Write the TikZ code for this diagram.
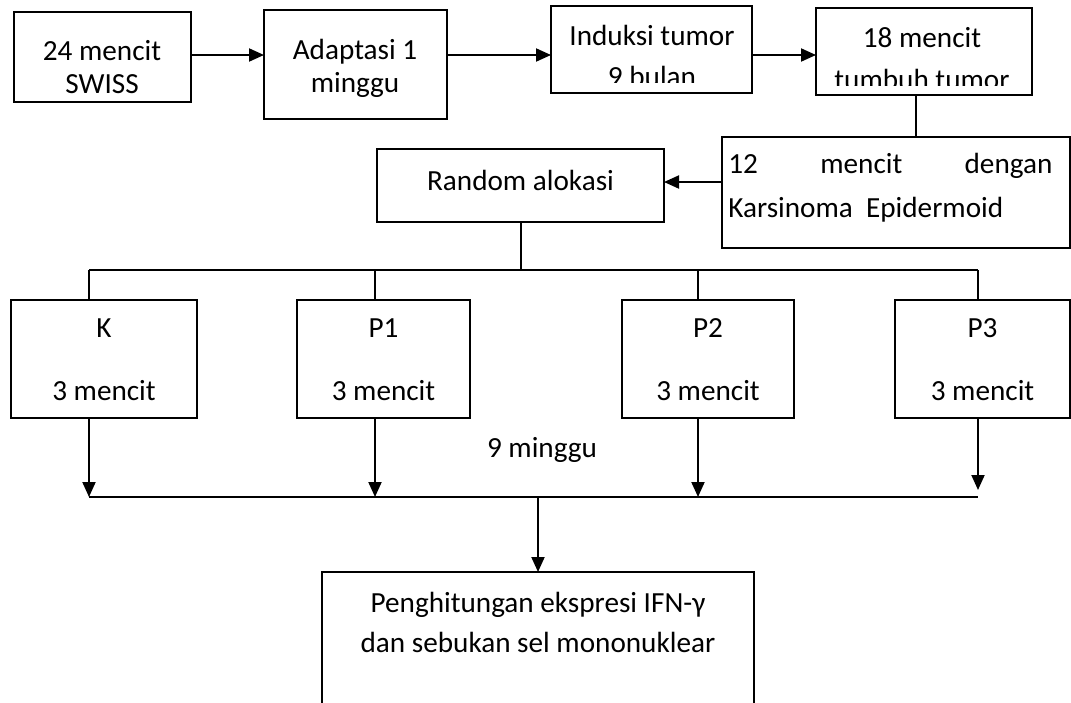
\documentclass[tikz,border=0pt]{standalone}
\usepackage{fontspec}
\setmainfont{Carlito}
\usetikzlibrary{arrows.meta}
\begin{document}
\begin{tikzpicture}[x=0.5pt,y=-0.5pt,
  box/.style={draw,line width=1pt,inner sep=0pt,outer sep=0pt},
  lbl/.style={anchor=base,inner sep=0pt,font=\fontsize{14.6pt}{17.5pt}\selectfont},
  arr/.style={line width=1pt,-{Triangle[length=7.5pt,width=6.5pt]}},
  ln/.style={line width=1pt}]
\useasboundingbox (0,0) rectangle (1071,702);
\clip (0,0) rectangle (1071,702);
% top row
\node[box,minimum width=88.5pt,minimum height=45pt] (b1) at (102.5,57) {};
\node[box,minimum width=91.5pt,minimum height=54.5pt] (b2) at (355.5,64.5) {};
\node[box,minimum width=100.5pt,minimum height=43.5pt] (b3) at (651.5,49.5) {};
\node[box,minimum width=108pt,minimum height=43.5pt] (b4) at (924,51.5) {};
\node[lbl] (t1a) at (102,60) {24 mencit};
\node[lbl] (t1b) at (102,93) {SWISS};
\node[lbl] (t2a) at (355,59) {Adaptasi 1};
\node[lbl] (t2b) at (355,92) {minggu};
\node[lbl] (t3a) at (652,45) {Induksi tumor};
\begin{scope}
\clip (551,0) rectangle (752,82);
\node[lbl] (t3b) at (652,86) {9 bulan};
\end{scope}
\node[lbl] (t4a) at (922,47) {18 mencit};
\begin{scope}
\clip (816,0) rectangle (1032,85);
\node[lbl] (t4b) at (922,89) {tumbuh tumor};
\end{scope}
\coordinate (row) at (0,55);
\draw[arr] (b1.east |- row) -- (b2.west |- row);
\draw[arr] (b2.east |- row) -- (b3.west |- row);
\draw[arr] (b3.east |- row) -- (b4.west |- row);
% second row
\node[box,minimum width=174pt,minimum height=55.5pt] (b5) at (896,192.5) {};
\node[lbl,anchor=base west] (t5a) at (728,173) {\hbox to 162pt{12\hfill mencit\hfill dengan}};
\node[lbl,anchor=base west] (t5b) at (728,217) {Karsinoma\ \ Epidermoid};
\node[box,minimum width=143.5pt,minimum height=36.5pt] (rnd) at (520.5,185.5) {};
\node[lbl] (trnd) at (520.5,190) {Random alokasi};
\coordinate (v45) at (916,0);
\draw[ln] (b4.south -| v45) -- (b5.north -| v45);
\coordinate (rowb) at (0,182);
\draw[arr] (b5.west |- rowb) -- (rnd.east |- rowb);
% groups
\node[box,minimum width=93pt,minimum height=59pt] (gk) at (104,359) {};
\node[box,minimum width=86.5pt,minimum height=59pt] (g1) at (383.5,359) {};
\node[box,minimum width=86pt,minimum height=59pt] (g2) at (708,359) {};
\node[box,minimum width=87.5pt,minimum height=59pt] (g3) at (982.5,359) {};
\node[lbl] (tka) at (104,337) {K};
\node[lbl] (tkb) at (104,400) {3 mencit};
\node[lbl] (t1pa) at (383.5,337) {P1};
\node[lbl] (t1pb) at (383.5,400) {3 mencit};
\node[lbl] (t2pa) at (708,337) {P2};
\node[lbl] (t2pb) at (708,400) {3 mencit};
\node[lbl] (t3pa) at (982.5,337) {P3};
\node[lbl] (t3pb) at (982.5,400) {3 mencit};
\coordinate (busL) at (89,270);
\coordinate (busR) at (978,270);
\coordinate (d1) at (375,270);
\coordinate (d2) at (698,270);
\draw[ln] (rnd.south) -- (rnd.south |- busL);
\draw[ln] (busL) -- (busR);
\draw[ln] (busL) -- (busL |- gk.north);
\draw[ln] (d1) -- (d1 |- g1.north);
\draw[ln] (d2) -- (d2 |- g2.north);
\draw[ln] (busR) -- (busR |- g3.north);
\coordinate (botL) at (89,497);
\coordinate (botR) at (978,497);
\draw[arr] (busL |- gk.south) -- (botL);
\draw[arr] (d1 |- g1.south) -- (d1 |- botL);
\draw[arr] (d2 |- g2.south) -- (d2 |- botL);
\draw[arr] (busR |- g3.south) -- (978,490);
\draw[ln] (botL) -- (botR);
\node[lbl] (t9) at (542,457) {9 minggu};
% final
\node[box,minimum width=216pt,minimum height=94pt] (fin) at (538,666) {};
\node[lbl] (tfa) at (538,612) {Penghitungan ekspresi IFN-γ};
\node[lbl] (tfb) at (538,652) {dan sebukan sel mononuklear};
\draw[arr] (fin.north |- botL) -- (fin.north);
\end{tikzpicture}
\end{document}
